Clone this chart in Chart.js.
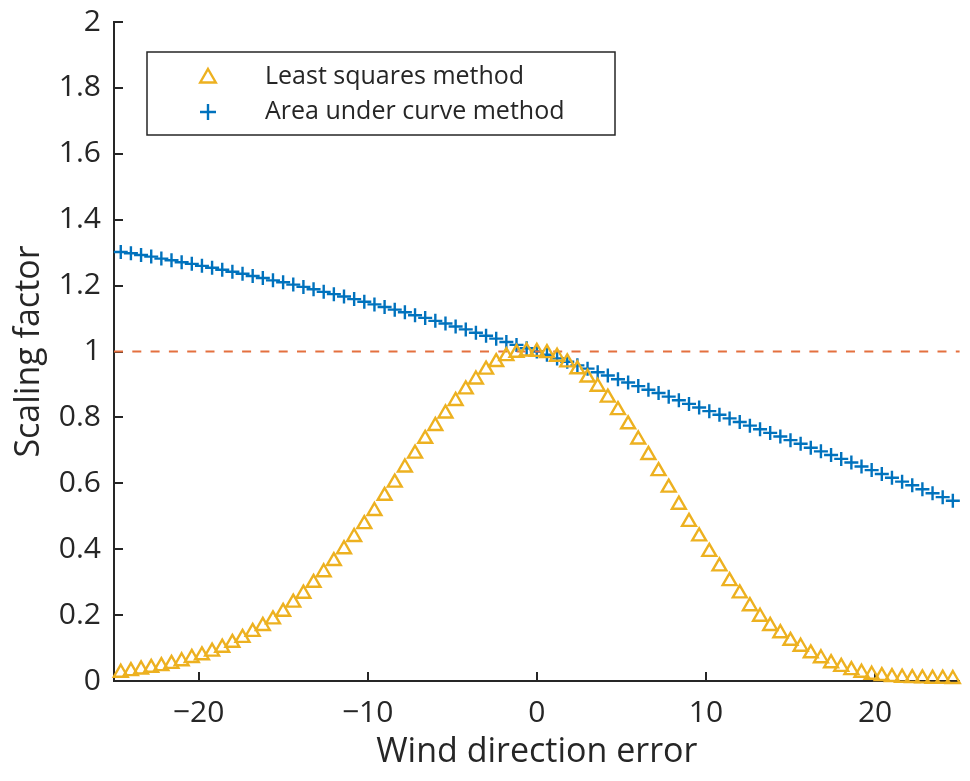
<!DOCTYPE html>
<html>
<head>
<meta charset="utf-8">
<script src="https://cdn.jsdelivr.net/npm/chart.js@4.4.0/dist/chart.umd.min.js"></script>
<style>
  html, body { margin: 0; padding: 0; background: #ffffff; }
  #wrap { width: 970px; height: 781px; position: relative; }
</style>
</head>
<body>
<div id="wrap"><canvas id="c" width="970" height="781"></canvas></div>
<script>
// ---------------- data ----------------
const windError = [
  -24.6, -24, -23.4, -22.8, -22.2, -21.6, -21, -20.4, -19.8, -19.2,
  -18.6, -18, -17.4, -16.8, -16.2, -15.6, -15, -14.4, -13.8, -13.2,
  -12.6, -12, -11.4, -10.8, -10.2, -9.6, -9, -8.4, -7.8, -7.2,
  -6.6, -6, -5.4, -4.8, -4.2, -3.6, -3, -2.4, -1.8, -1.2,
  -0.6, 0, 0.6, 1.2, 1.8, 2.4, 3, 3.6, 4.2, 4.8,
  5.4, 6, 6.6, 7.2, 7.8, 8.4, 9, 9.6, 10.2, 10.8,
  11.4, 12, 12.6, 13.2, 13.8, 14.4, 15, 15.6, 16.2, 16.8,
  17.4, 18, 18.6, 19.2, 19.8, 20.4, 21, 21.6, 22.2, 22.8,
  23.4, 24, 24.6
];
const leastSquares = [
  0.025, 0.030, 0.035, 0.040, 0.045, 0.052, 0.060, 0.070, 0.078, 0.089,
  0.101, 0.116, 0.131, 0.149, 0.167, 0.187, 0.210, 0.238, 0.265, 0.298,
  0.330, 0.364, 0.400, 0.437, 0.476, 0.516, 0.562, 0.602, 0.648, 0.690,
  0.735, 0.774, 0.812, 0.850, 0.885, 0.915, 0.945, 0.968, 0.986, 0.996,
  1.000, 0.999, 0.995, 0.984, 0.967, 0.946, 0.921, 0.893, 0.860, 0.822,
  0.779, 0.733, 0.686, 0.637, 0.587, 0.535, 0.483, 0.439, 0.392, 0.348,
  0.303, 0.266, 0.227, 0.195, 0.167, 0.145, 0.122, 0.104, 0.084, 0.069,
  0.054, 0.043, 0.033, 0.025, 0.019, 0.015, 0.012, 0.010, 0.009, 0.008,
  0.007, 0.007, 0.006
];
const areaUnderCurve = [
  1.302, 1.298, 1.293, 1.288, 1.282, 1.277, 1.271, 1.266, 1.260, 1.254,
  1.248, 1.242, 1.236, 1.229, 1.223, 1.216, 1.210, 1.203, 1.196, 1.189,
  1.181, 1.174, 1.167, 1.159, 1.151, 1.143, 1.135, 1.127, 1.119, 1.110,
  1.102, 1.093, 1.085, 1.076, 1.067, 1.057, 1.048, 1.039, 1.029, 1.020,
  1.010, 1.000, 0.990, 0.979, 0.969, 0.958, 0.948, 0.937, 0.927, 0.916,
  0.906, 0.895, 0.884, 0.874, 0.863, 0.852, 0.841, 0.830, 0.819, 0.808,
  0.797, 0.786, 0.775, 0.764, 0.753, 0.742, 0.731, 0.720, 0.708, 0.697,
  0.686, 0.674, 0.663, 0.651, 0.640, 0.628, 0.617, 0.605, 0.594, 0.582,
  0.570, 0.558, 0.547
];
const referenceX = [-25, 25];
const referenceY = [1, 1];
const xTickValues = [-20, -10, 0, 10, 20];
const yTickValues = [0, 0.2, 0.4, 0.6, 0.8, 1, 1.2, 1.4, 1.6, 1.8, 2];
const seriesLabels = ['Least squares method', 'Area under curve method'];
const axisTitles = { x: 'Wind direction error', y: 'Scaling factor' };

// ---------------- styling ----------------
const FONT = "'Open Sans', 'Noto Sans', sans-serif";
const INK = '#262626';
const YELLOW = '#EDB120';
const BLUE = '#0072BD';
const ORANGE = '#E4703F';

const pts = (xs, ys) => xs.map((x, i) => ({ x: x, y: ys[i] }));
const fmt = v => (v < 0 ? '\u2212' + String(Math.abs(v)) : String(v));

// inward tick marks (MATLAB style), drawn from the scales
const inwardTicks = {
  id: 'inwardTicks',
  beforeDatasetsDraw(chart) {
    const { ctx, scales } = chart;
    const xs = scales.x, ys = scales.y;
    const len = 9;
    ctx.save();
    ctx.strokeStyle = INK;
    ctx.lineWidth = 2;
    ctx.beginPath();
    xs.ticks.forEach(t => {
      const px = Math.round(xs.getPixelForValue(t.value));
      ctx.moveTo(px, ys.bottom);
      ctx.lineTo(px, ys.bottom - len);
    });
    ys.ticks.forEach(t => {
      const py = Math.round(ys.getPixelForValue(t.value));
      ctx.moveTo(xs.left, py);
      ctx.lineTo(xs.left + len, py);
    });
    ctx.stroke();
    ctx.restore();
  }
};

function drawMarker(ctx, style, x, y, r, color, lw) {
  ctx.save();
  ctx.strokeStyle = color;
  ctx.lineWidth = lw;
  ctx.beginPath();
  if (style === 'triangle') {
    ctx.moveTo(x, y - r);
    ctx.lineTo(x + r * Math.sqrt(3) / 2, y + r / 2);
    ctx.lineTo(x - r * Math.sqrt(3) / 2, y + r / 2);
    ctx.closePath();
  } else {
    ctx.moveTo(x, y - r); ctx.lineTo(x, y + r);
    ctx.moveTo(x - r, y); ctx.lineTo(x + r, y);
  }
  ctx.stroke();
  ctx.restore();
}

// boxed legend inside the axes (upper left)
const boxLegend = {
  id: 'boxLegend',
  afterDraw(chart) {
    const { ctx, chartArea } = chart;
    const bx = chartArea.left + 33, by = chartArea.top + 30, bw = 468, bh = 83;
    ctx.save();
    ctx.fillStyle = '#ffffff';
    ctx.fillRect(bx, by, bw, bh);
    ctx.strokeStyle = INK;
    ctx.lineWidth = 1.5;
    ctx.strokeRect(bx, by, bw, bh);
    const entries = chart.data.datasets.filter(d => d.inLegend);
    entries.forEach((d, i) => {
      const cy = by + 25 + i * 35;
      drawMarker(ctx, d.pointStyle, bx + 61, cy + (d.pointStyle === 'triangle' ? 1 : 0), d.pointRadius + 1, d.pointBorderColor, d.pointBorderWidth);
      ctx.fillStyle = INK;
      ctx.font = '25px ' + FONT;
      ctx.textBaseline = 'middle';
      ctx.textAlign = 'left';
      ctx.fillText(d.label, bx + 118, cy);
    });
    ctx.restore();
  }
};

new Chart(document.getElementById('c'), {
  type: 'scatter',
  data: {
    datasets: [
      {
        label: seriesLabels[0],
        inLegend: true,
        data: pts(windError, leastSquares),
        showLine: false,
        pointStyle: 'triangle',
        pointRadius: 8,
        pointBorderWidth: 2.4,
        pointBorderColor: YELLOW,
        pointBackgroundColor: 'rgba(0,0,0,0)',
        clip: false
      },
      {
        label: 'reference',
        inLegend: false,
        data: pts(referenceX, referenceY),
        showLine: true,
        borderColor: ORANGE,
        borderWidth: 2,
        borderDash: [9, 9.3],
        pointRadius: 0,
        fill: false,
        clip: false
      },
      {
        label: seriesLabels[1],
        inLegend: true,
        data: pts(windError, areaUnderCurve),
        showLine: false,
        pointStyle: 'cross',
        pointRadius: 7,
        pointBorderWidth: 2.4,
        pointBorderColor: BLUE,
        pointBackgroundColor: BLUE,
        clip: false
      }
    ]
  },
  options: {
    responsive: false,
    animation: false,
    devicePixelRatio: 1,
    events: [],
    layout: { padding: { top: 22, right: 6, bottom: 0, left: 0 } },
    plugins: { legend: { display: false }, tooltip: { enabled: false } },
    scales: {
      x: {
        type: 'linear',
        position: 'bottom',
        min: -25,
        max: 25,
        afterBuildTicks: s => { s.ticks = xTickValues.map(v => ({ value: v })); },
        afterFit: s => { s.height = 100; s.paddingLeft = 0; s.paddingRight = 0; },
        grid: { display: false, drawTicks: false },
        border: { display: true, color: INK, width: 2 },
        ticks: {
          callback: v => fmt(v),
          autoSkip: false, maxRotation: 0,
          color: INK, padding: 14,
          font: { family: FONT, size: 30 }
        },
        title: {
          display: true, text: axisTitles.x, color: INK,
          font: { family: FONT, size: 34 },
          padding: { top: 0, bottom: 8 }
        }
      },
      y: {
        type: 'linear',
        min: 0,
        max: 2,
        afterBuildTicks: s => { s.ticks = yTickValues.map(v => ({ value: v })); },
        afterFit: s => { s.width = 114; s.paddingTop = 0; s.paddingBottom = 0; },
        grid: { display: false, drawTicks: false },
        border: { display: true, color: INK, width: 2 },
        ticks: {
          callback: v => fmt(v),
          autoSkip: false,
          color: INK, padding: 13,
          font: { family: FONT, size: 30 }
        },
        title: {
          display: true, text: axisTitles.y, color: INK,
          font: { family: FONT, size: 34 },
          padding: { top: 9, bottom: 0 }
        }
      }
    }
  },
  plugins: [inwardTicks, boxLegend]
});
</script>
</body>
</html>
